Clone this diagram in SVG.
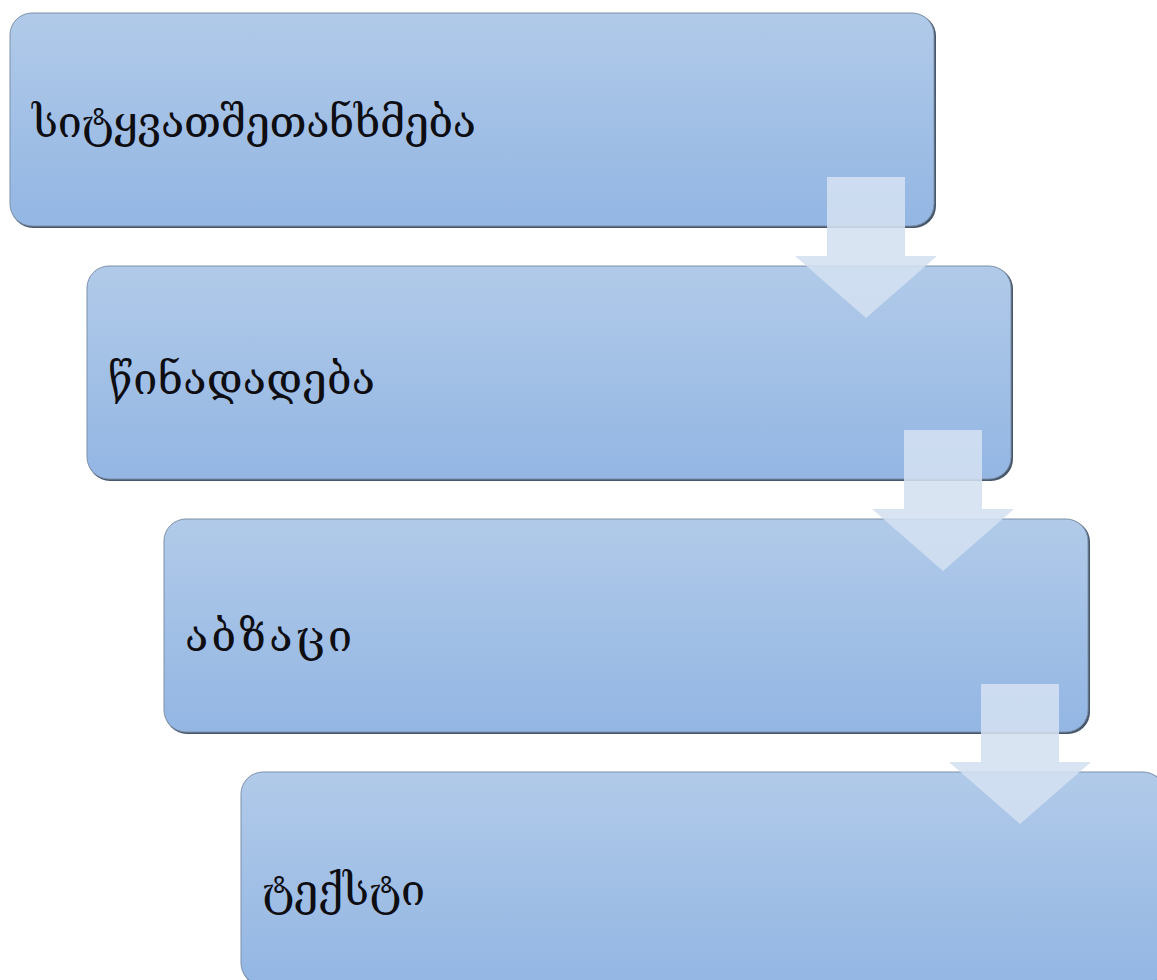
<svg xmlns="http://www.w3.org/2000/svg" width="1157" height="980" viewBox="0 0 1157 980">
<defs>
<linearGradient id="g" x1="0" y1="0" x2="0" y2="1">
<stop offset="0" stop-color="#b1cae9"/>
<stop offset="1" stop-color="#93b6e3"/>
</linearGradient>
<style>
.shadow{fill:#46566b}
.box{fill:url(#g);stroke:#7d90a8;stroke-width:1}
.lbl{font-family:"DejaVu Serif","DejaVu Sans",serif;font-size:43px;fill:#0d0d12}
.arr{fill:#d4e0f1;fill-opacity:0.88}
</style>
</defs>
<rect width="1157" height="980" fill="#ffffff"/>
<g id="node1">
<rect class="shadow" x="11" y="14" width="925" height="214" rx="22"/>
<rect class="box" x="10" y="13" width="924" height="213" rx="22"/>
<text class="lbl" x="32" y="137" textLength="444" lengthAdjust="spacing">სიტყვათშეთანხმება</text>
</g>
<g id="node2">
<rect class="shadow" x="88" y="267" width="925" height="214" rx="22"/>
<rect class="box" x="87" y="266" width="924" height="213" rx="22"/>
<text class="lbl" x="108" y="394" textLength="267" lengthAdjust="spacing">წინადადება</text>
</g>
<g id="node3">
<rect class="shadow" x="165" y="520" width="925" height="214" rx="22"/>
<rect class="box" x="164" y="519" width="924" height="213" rx="22"/>
<text class="lbl" x="185" y="651" textLength="167" lengthAdjust="spacing">აბზაცი</text>
</g>
<g id="node4">
<rect class="shadow" x="242" y="773" width="925" height="214" rx="22"/>
<rect class="box" x="241" y="772" width="924" height="213" rx="22"/>
<text class="lbl" x="262" y="905" textLength="163" lengthAdjust="spacing">ტექსტი</text>
</g>
<g id="connectors">
<polygon class="arr" points="827,177 905,177 905,256 937,256 866,318 795,256 827,256"/>
<polygon class="arr" points="904,430 982,430 982,509 1014,509 943,571 872,509 904,509"/>
<polygon class="arr" points="981,684 1059,684 1059,762 1091,762 1020,824 949,762 981,762"/>
</g>
</svg>
